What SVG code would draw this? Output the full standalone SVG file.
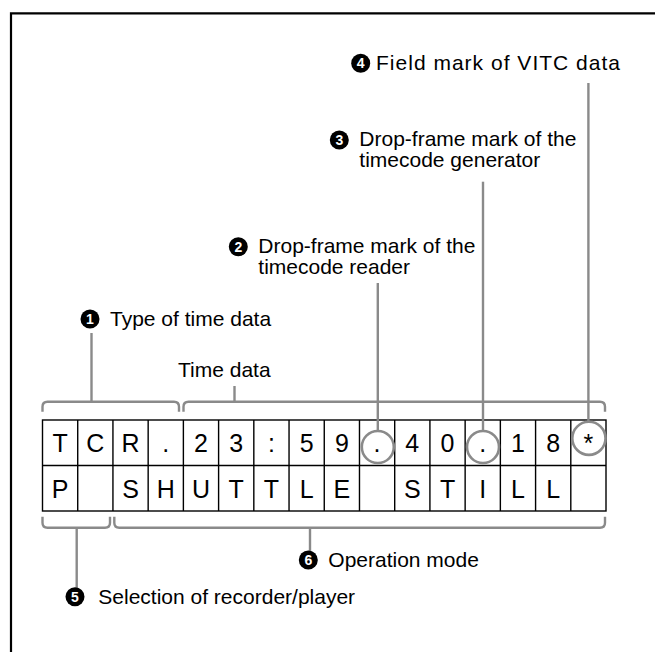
<svg xmlns="http://www.w3.org/2000/svg" width="655" height="652" viewBox="0 0 655 652">
<style>
.frame{fill:none;stroke:#000;stroke-width:2.2}
.grid{fill:none;stroke:#000;stroke-width:1.4}
.cell{font-family:"Liberation Sans",Arial,sans-serif;font-size:25px;fill:#000;text-anchor:middle}
.lbl{font-family:"Liberation Sans",Arial,sans-serif;font-size:21px;fill:#000}
.num{font-family:"Liberation Sans",Arial,sans-serif;font-size:14px;font-weight:bold;fill:#fff;text-anchor:middle}
.lead{fill:none;stroke:#8a8a8a;stroke-width:2.4}
.ring{fill:none;stroke:#8a8a8a;stroke-width:2.6}
</style>
<rect width="655" height="652" fill="#fff"/>
<path class="frame" d="M11,652 V13.3 H655"/>

<g id="display">
<rect class="grid" x="42.5" y="420" width="563.5" height="91"/>
<line class="grid" x1="42.5" y1="465.5" x2="606" y2="465.5"/>
<path class="grid" d="M77.72,420V511M112.94,420V511M148.16,420V511M183.38,420V511M218.6,420V511M253.82,420V511M289.04,420V511M324.26,420V511M359.48,420V511M394.7,420V511M429.92,420V511M465.14,420V511M500.36,420V511M535.58,420V511M570.8,420V511"/>
<g class="cell">
<text x="60.11" y="451.5">T</text>
<text x="95.33" y="451.5">C</text>
<text x="130.55" y="451.5">R</text>
<text x="165.77" y="451.5">.</text>
<text x="200.99" y="451.5">2</text>
<text x="236.21" y="451.5">3</text>
<text x="271.43" y="451.5">:</text>
<text x="306.65" y="451.5">5</text>
<text x="341.87" y="451.5">9</text>
<text x="377.09" y="451.5">.</text>
<text x="412.31" y="451.5">4</text>
<text x="447.53" y="451.5">0</text>
<text x="482.75" y="451.5">.</text>
<text x="517.97" y="451.5">1</text>
<text x="553.19" y="451.5">8</text>
<text x="588.41" y="451.5">*</text>
<text x="60.11" y="497.5">P</text>
<text x="130.55" y="497.5">S</text>
<text x="165.77" y="497.5">H</text>
<text x="200.99" y="497.5">U</text>
<text x="236.21" y="497.5">T</text>
<text x="271.43" y="497.5">T</text>
<text x="306.65" y="497.5">L</text>
<text x="341.87" y="497.5">E</text>
<text x="412.31" y="497.5">S</text>
<text x="447.53" y="497.5">T</text>
<text x="482.75" y="497.5">I</text>
<text x="517.97" y="497.5">L</text>
<text x="553.19" y="497.5">L</text>
</g>
</g>

<g id="connectors">
<path class="lead" d="M42.5,411.7 V406.7 Q42.5,401.7 47.5,401.7 H174 Q179,401.7 179,406.7 V411.7"/>
<path class="lead" d="M183.5,411.7 V406.7 Q183.5,401.7 188.5,401.7 H600 Q605,401.7 605,406.7 V411.7"/>
<path class="lead" d="M42.5,516.7 V522.7 Q42.5,527.7 47.5,527.7 H105 Q110,527.7 110,522.7 V516.7"/>
<path class="lead" d="M114.3,516.7 V522.7 Q114.3,527.7 119.3,527.7 H600 Q605,527.7 605,522.7 V516.7"/>
<line class="lead" x1="91.5" y1="333" x2="91.5" y2="401.7"/>
<line class="lead" x1="234.5" y1="386" x2="234.5" y2="401.7"/>
<line class="lead" x1="377.8" y1="283" x2="377.8" y2="431"/>
<line class="lead" x1="483" y1="181.7" x2="483" y2="431"/>
<line class="lead" x1="588.4" y1="83" x2="588.4" y2="421.7"/>
<line class="lead" x1="76.7" y1="527.7" x2="76.7" y2="590"/>
<line class="lead" x1="310" y1="527.7" x2="310" y2="551"/>
<circle class="ring" cx="377.8" cy="447" r="16"/>
<circle class="ring" cx="483" cy="447" r="16"/>
<circle class="ring" cx="588.9" cy="438.3" r="16.6"/>
</g>

<g id="label1">
<circle cx="90" cy="319" r="9.5"/>
<text class="num" x="90" y="324">1</text>
<text class="lbl" x="110" y="326">Type of time data</text>
</g>
<g id="label-time">
<text class="lbl" x="178" y="377">Time data</text>
</g>
<g id="label2">
<circle cx="238.3" cy="246.7" r="9.5"/>
<text class="num" x="238.3" y="251.7">2</text>
<text class="lbl" x="258.3" y="253">Drop-frame mark of the</text>
<text class="lbl" x="258.3" y="274">timecode reader</text>
</g>
<g id="label3">
<circle cx="339.3" cy="140" r="9.5"/>
<text class="num" x="339.3" y="145">3</text>
<text class="lbl" x="359.3" y="146">Drop-frame mark of the</text>
<text class="lbl" x="359.3" y="167">timecode generator</text>
</g>
<g id="label4">
<circle cx="360.7" cy="63.3" r="9.5"/>
<text class="num" x="360.7" y="68.3">4</text>
<text class="lbl" x="376" y="70" textLength="244" lengthAdjust="spacing">Field mark of VITC data</text>
</g>
<g id="label5">
<circle cx="75" cy="596.7" r="9.5"/>
<text class="num" x="75" y="601.7">5</text>
<text class="lbl" x="98.3" y="604">Selection of recorder/player</text>
</g>
<g id="label6">
<circle cx="308.3" cy="560" r="9.5"/>
<text class="num" x="308.3" y="565">6</text>
<text class="lbl" x="328.3" y="567">Operation mode</text>
</g>
</svg>
